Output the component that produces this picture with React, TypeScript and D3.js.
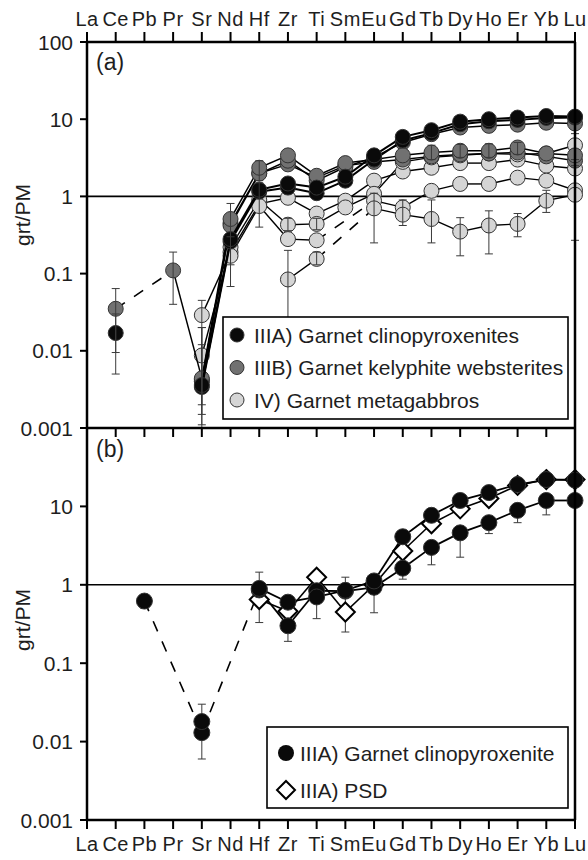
import React from 'react';
import * as d3 from 'd3';

const ELEMENTS = ['La','Ce','Pb','Pr','Sr','Nd','Hf','Zr','Ti','Sm','Eu','Gd','Tb','Dy','Ho','Er','Yb','Lu'];
const Y_TICKS_A = [100, 10, 1, 0.1, 0.01, 0.001];
const Y_TICKS_B = [10, 1, 0.1, 0.01, 0.001];

type V = number | null;
type E = [number, number] | null;
const _ = null;

// Panel (a) — IIIA garnet clinopyroxenites
const a_IIIA_1: V[] = [_, 0.017, _, _, 0.0036, 0.28, 1.22, 1.47, 1.3, 1.8, 3.4, 5.9, 7.2, 9.3, 10.0, 10.5, 11.0, 10.8];
const a_IIIA_2: V[] = [_, _, _, _, 0.0034, 0.26, 1.15, 1.3, 1.1, 1.6, 3.0, 5.3, 6.6, 8.6, 9.4, 9.8, 10.4, 10.5];
// Panel (a) — IIIB garnet kelyphite websterites
const a_IIIB_1: V[] = [_, 0.035, _, 0.11, 0.0044, 0.51, 2.35, 3.4, 1.85, 2.7, 3.0, 3.4, 3.7, 3.9, 3.9, 4.3, 3.6, 3.4];
const a_IIIB_2: V[] = [_, _, _, _, 0.0042, 0.42, 1.97, 2.9, 1.6, 2.4, 3.2, 5.0, 6.4, 7.8, 8.2, 8.5, 9.0, 8.8];
const a_IIIB_3: V[] = [_, _, _, _, 0.004, 0.45, 2.0, 2.6, 1.75, 2.5, 2.8, 3.0, 3.3, 3.5, 3.6, 3.7, 3.3, 2.9];
// Panel (a) — IV garnet metagabbros
const a_IV_1: V[] = [_, _, _, _, 0.029, 0.19, 0.8, 0.96, 0.6, 0.88, 1.6, 2.1, 2.35, 2.7, 2.7, 3.0, 2.5, 2.3];
const a_IV_2: V[] = [_, _, _, _, 0.0087, 0.22, 0.9, 0.43, 0.44, 0.72, 1.08, 2.8, 3.2, 3.4, 3.6, 3.5, 3.6, 4.6];
const a_IV_3: V[] = [_, _, _, _, _, 0.17, 0.75, 0.28, 0.27, _, 0.88, 0.72, 1.18, 1.45, 1.45, 1.75, 1.6, 1.2];
const a_IV_4: V[] = [_, _, _, _, _, _, _, 0.084, 0.155, _, 0.7, 0.58, 0.51, 0.35, 0.42, 0.44, 0.88, 1.05];

// Panel (a) error bars
const aErr_IIIA_1: E[] = [_, [0.005, 0.03], _, _, [0.0011, 0.012], [0.068, 0.81], _, _, _, _, _, _, _, _, _, _, _, _];
const aErr_IIIB_1: E[] = [_, [0.0095, 0.064], _, [0.04, 0.19], [0.0015, 0.02], _, [1.6, 2.9], _, _, _, _, _, [3.0, 4.6], [3.2, 4.7], [3.2, 4.8], [3.5, 5.0], _, _];
const aErr_IV_1: E[] = [_, _, _, _, [0.001, 0.045], [0.13, 0.3], [0.4, 1.5], _, _, _, _, _, _, _, _, _, _, _];
const aErr_IV_2: E[] = [_, _, _, _, [0.002, 0.02], _, _, [0.36, 0.52], [0.37, 0.52], _, _, _, _, _, _, _, _, [3.0, 6.5]];
const aErr_IV_4: E[] = [_, _, _, _, _, _, _, [0.027, 0.2], [0.13, 0.19], _, [0.25, 1.1], [0.42, 0.9], [0.25, 0.9], [0.17, 0.53], [0.18, 0.65], [0.3, 0.6], [0.62, 1.2], [0.27, 2.5]];

// Panel (b)
const b_IIIA_1: V[] = [_, _, 0.62, _, 0.013, _, 0.86, 0.3, 0.84, 0.83, 0.93, 1.63, 3.0, 4.6, 6.2, 8.9, 11.9, 11.9];
const b_IIIA_2: V[] = [_, _, _, _, 0.018, _, 0.9, 0.6, 0.7, 0.85, 1.12, 4.1, 7.7, 11.9, 15, 19, 22, 21.6];
const b_PSD: V[] = [_, _, _, _, _, _, 0.65, 0.46, 1.25, 0.45, 1.0, 2.7, 6.0, 9.3, 12.6, 18.5, 22, 22];
const bErr_IIIA_1: E[] = [_, _, [0.5, 0.7], _, [0.006, 0.03], _, [0.33, 1.45], [0.19, 0.3], [0.37, 1.1], [0.25, 1.25], [0.44, 1.12], [1.18, 1.63], [1.8, 3.0], [2.25, 4.6], [4.5, 6.2], [6.2, 8.9], [7.8, 11.9], [11, 13]];
const bErr_IIIA_2: E[] = [_, _, _, _, _, _, _, _, _, _, _, [3.2, 4.1], [6.2, 7.7], [10, 12], _, _, _, _];

const LEGEND_A = ['IIIA) Garnet clinopyroxenites', 'IIIB) Garnet kelyphite websterites', 'IV) Garnet metagabbros'];
const LEGEND_B = ['IIIA) Garnet clinopyroxenite', 'IIIA) PSD'];

const FONT = "'Liberation Sans', Arial, Helvetica, sans-serif";
const BLACK = '#0a0a0a';
const DARK = '#717171';
const LIGHT = '#d5d5d5';
const TEXT = '#1e1e1e';

type Series = { values: V[]; fill: string; marker: 'circle' | 'diamond'; bridge: boolean; lw: number };

const x = d3.scalePoint<string>().domain(ELEMENTS).range([87, 575]);
const ya = d3.scaleLog().domain([0.001, 100]).range([428, 42]);
const yb = d3.scaleLog().domain([0.001, 100]).range([820, 428]);

function SeriesLines({ s, y }: { s: Series; y: d3.ScaleLogarithmic<number, number> }) {
  const pts = s.values.map((v, i) => (v == null ? null : { i, v })).filter(Boolean) as { i: number; v: number }[];
  const segs: any[] = [];
  for (let k = 1; k < pts.length; k++) {
    const a = pts[k - 1], b = pts[k];
    const gap = b.i - a.i > 1;
    if (gap && !s.bridge) continue;
    const line = d3.line<{ i: number; v: number }>().x(d => x(ELEMENTS[d.i])!).y(d => y(d.v));
    segs.push(
      <path key={k} d={line([a, b])!} stroke="#000" strokeWidth={gap ? 1.6 : s.lw} fill="none"
        strokeDasharray={gap ? '11,11' : undefined} />
    );
  }
  return <g>{segs}</g>;
}

function Markers({ s, y, r }: { s: Series; y: d3.ScaleLogarithmic<number, number>; r: number }) {
  return (
    <g>
      {s.values.map((v, i) => {
        if (v == null) return null;
        const cx = x(ELEMENTS[i])!, cy = y(v);
        if (s.marker === 'diamond') {
          const d = r + 1.5;
          return <path key={i} d={`M${cx},${cy - d}L${cx + d},${cy}L${cx},${cy + d}L${cx - d},${cy}Z`} fill="#fff" stroke="#000" strokeWidth={2} />;
        }
        return <circle key={i} cx={cx} cy={cy} r={r} fill={s.fill} stroke="#333" strokeWidth={1} />;
      })}
    </g>
  );
}

function ErrorBars({ errs, y }: { errs: E[]; y: d3.ScaleLogarithmic<number, number> }) {
  return (
    <g stroke="#3a3a3a" strokeWidth={1}>
      {errs.map((e, i) => {
        if (!e) return null;
        const cx = x(ELEMENTS[i])!;
        const y0 = y(e[0]), y1 = y(e[1]);
        return (
          <g key={i}>
            <line x1={cx} x2={cx} y1={y0} y2={y1} />
            <line x1={cx - 4} x2={cx + 4} y1={y0} y2={y0} />
            <line x1={cx - 4} x2={cx + 4} y1={y1} y2={y1} />
          </g>
        );
      })}
    </g>
  );
}

export default function App() {
  const groupIV: Series[] = [a_IV_1, a_IV_2, a_IV_3, a_IV_4].map(v => ({ values: v, fill: LIGHT, marker: 'circle', bridge: true, lw: 1.4 }));
  const groupIIIB: Series[] = [a_IIIB_3, a_IIIB_2, a_IIIB_1].map(v => ({ values: v, fill: DARK, marker: 'circle', bridge: true, lw: 1.5 }));
  const groupIIIA: Series[] = [a_IIIA_2, a_IIIA_1].map(v => ({ values: v, fill: BLACK, marker: 'circle', bridge: false, lw: 2 }));
  const groupsA = [groupIV, groupIIIB, groupIIIA];

  const bSeries: Series[] = [
    { values: b_PSD, fill: '#fff', marker: 'diamond', bridge: false, lw: 1.6 },
    { values: b_IIIA_1, fill: BLACK, marker: 'circle', bridge: true, lw: 1.8 },
    { values: b_IIIA_2, fill: BLACK, marker: 'circle', bridge: false, lw: 1.8 },
  ];

  const left = 87, right = 575, top = 42, mid = 428, bottom = 820;

  return (
    <div style={{ position: 'absolute', left: 0, top: 0 }}>
      <svg width={588} height={860} style={{ display: 'block', fontFamily: FONT }}>
        <rect width={588} height={860} fill="#fff" />

        {ELEMENTS.map(el => (
          <g key={'t' + el}>
            <text x={x(el)} y={26} textAnchor="middle" fontSize={20} letterSpacing={0.5} fill={TEXT}>{el}</text>
            <line x1={x(el)} x2={x(el)} y1={top} y2={32} stroke="#000" strokeWidth={2} />
            <line x1={x(el)} x2={x(el)} y1={mid} y2={437} stroke="#000" strokeWidth={2} />
            <line x1={x(el)} x2={x(el)} y1={bottom} y2={829} stroke="#000" strokeWidth={2} />
            <text x={x(el)} y={851} textAnchor="middle" fontSize={20} letterSpacing={0.5} fill={TEXT}>{el}</text>
          </g>
        ))}

        {Y_TICKS_A.map(t => (
          <g key={'ya' + t}>
            <line x1={80} x2={left} y1={ya(t)} y2={ya(t)} stroke="#000" strokeWidth={2} />
            <text x={73} y={ya(t)} dy="0.36em" textAnchor="end" fontSize={21} fill={TEXT}>{String(t)}</text>
          </g>
        ))}
        {Y_TICKS_B.map(t => (
          <g key={'yb' + t}>
            <line x1={80} x2={left} y1={yb(t)} y2={yb(t)} stroke="#000" strokeWidth={2} />
            <text x={73} y={yb(t)} dy="0.36em" textAnchor="end" fontSize={21} fill={TEXT}>{String(t)}</text>
          </g>
        ))}

        <text transform="translate(30,215) rotate(-90)" textAnchor="middle" fontSize={21} fill={TEXT}>grt/PM</text>
        <text transform="translate(30,620) rotate(-90)" textAnchor="middle" fontSize={21} fill={TEXT}>grt/PM</text>

        <line x1={left} x2={right} y1={ya(1)} y2={ya(1)} stroke="#000" strokeWidth={1.6} />
        <line x1={left} x2={right} y1={yb(1)} y2={yb(1)} stroke="#000" strokeWidth={1.6} />

        {groupsA.map((g, gi) => (
          <g key={'ga' + gi}>
            {g.map((s, si) => <SeriesLines key={si} s={s} y={ya} />)}
            {g.map((s, si) => <Markers key={si} s={s} y={ya} r={7.5} />)}
          </g>
        ))}
        <ErrorBars errs={aErr_IV_1} y={ya} />
        <ErrorBars errs={aErr_IV_2} y={ya} />
        <ErrorBars errs={aErr_IV_4} y={ya} />
        <ErrorBars errs={aErr_IIIB_1} y={ya} />
        <ErrorBars errs={aErr_IIIA_1} y={ya} />

        <ErrorBars errs={bErr_IIIA_1} y={yb} />
        <ErrorBars errs={bErr_IIIA_2} y={yb} />
        {bSeries.map((s, si) => <SeriesLines key={'bl' + si} s={s} y={yb} />)}
        {bSeries.map((s, si) => <Markers key={'bm' + si} s={s} y={yb} r={8} />)}

        <rect x={223} y={317} width={345} height={102} fill="#fff" stroke="#000" strokeWidth={1.6} />
        {LEGEND_A.map((t, i) => (
          <g key={'la' + i}>
            <circle cx={237} cy={335 + i * 32.5} r={7} fill={[BLACK, DARK, LIGHT][i]} stroke="#333" strokeWidth={1} />
            <text x={254} y={335 + i * 32.5} dy="0.36em" fontSize={21} fill={TEXT}>{t}</text>
          </g>
        ))}

        <rect x={267} y={727} width={301} height={81} fill="#fff" stroke="#000" strokeWidth={1.6} />
        <circle cx={286} cy={753} r={8} fill={BLACK} />
        <path d={`M286,${790 - 9}L295,790L286,${790 + 9}L277,790Z`} fill="#fff" stroke="#000" strokeWidth={2} />
        {LEGEND_B.map((t, i) => (
          <text key={'lb' + i} x={300} y={[753, 790][i]} dy="0.36em" fontSize={21} fill={TEXT}>{t}</text>
        ))}

        <text x={96} y={70} fontSize={23} fill={TEXT}>(a)</text>
        <text x={96} y={457} fontSize={23} fill={TEXT}>(b)</text>

        <line x1={left} x2={right} y1={top} y2={top} stroke="#000" strokeWidth={2.5} />
        <line x1={left} x2={right} y1={mid} y2={mid} stroke="#000" strokeWidth={2.5} />
        <line x1={left} x2={right} y1={bottom} y2={bottom} stroke="#000" strokeWidth={2.5} />
        <line x1={left} x2={left} y1={top} y2={bottom} stroke="#000" strokeWidth={2.5} />
        <line x1={right} x2={right} y1={top} y2={bottom} stroke="#000" strokeWidth={2.5} />
      </svg>
    </div>
  );
}
